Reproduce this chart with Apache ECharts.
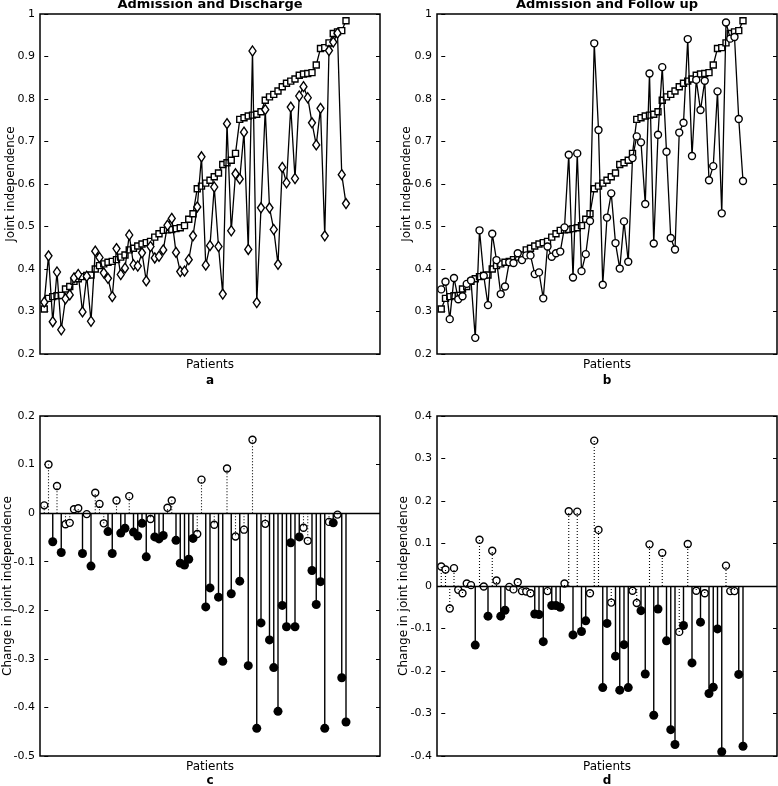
<!DOCTYPE html>
<html>
<head>
<meta charset="utf-8">
<script src="https://cdn.jsdelivr.net/npm/echarts@6/dist/echarts.min.js"></script>
<style>
  html, body { margin: 0; padding: 0; background: #fff; }
  #chart { width: 778px; height: 786px; }
</style>
</head>
<body>
<div id="chart"></div>
<script>
// admission values, patients sorted by admission (squares)
const admission = [
  0.306, 0.331, 0.335, 0.337, 0.338, 0.353, 0.359, 0.371, 0.377, 0.382,
  0.385, 0.386, 0.400, 0.408, 0.412, 0.416, 0.418, 0.422, 0.428, 0.433,
  0.445, 0.449, 0.454, 0.459, 0.462, 0.465, 0.475, 0.483, 0.491, 0.492,
  0.493, 0.495, 0.497, 0.502, 0.517, 0.530, 0.589, 0.595, 0.602, 0.609,
  0.617, 0.626, 0.646, 0.650, 0.656, 0.672, 0.752, 0.756, 0.760, 0.762,
  0.764, 0.770, 0.797, 0.805, 0.811, 0.819, 0.829, 0.837, 0.842, 0.847,
  0.856, 0.859, 0.860, 0.862, 0.880, 0.919, 0.921, 0.932, 0.954, 0.958,
  0.961, 0.984
];
// discharge values (diamonds)
const discharge = [
  0.322, 0.431, 0.276, 0.393, 0.257, 0.330, 0.339, 0.379, 0.387, 0.299,
  0.383, 0.277, 0.442, 0.427, 0.391, 0.378, 0.335, 0.448, 0.387, 0.402,
  0.480, 0.410, 0.407, 0.438, 0.372, 0.453, 0.426, 0.430, 0.445, 0.503,
  0.519, 0.439, 0.394, 0.395, 0.422, 0.478, 0.546, 0.664, 0.409, 0.455,
  0.593, 0.453, 0.341, 0.742, 0.490, 0.624, 0.612, 0.722, 0.446, 0.913,
  0.321, 0.544, 0.775, 0.544, 0.493, 0.411, 0.639, 0.603, 0.781, 0.613,
  0.807, 0.829, 0.803, 0.744, 0.692, 0.778, 0.478, 0.914, 0.934, 0.955,
  0.622, 0.554
];
// follow up values (circles)
const followUp = [
  0.352, 0.370, 0.282, 0.379, 0.329, 0.336, 0.365, 0.373, 0.238, 0.491,
  0.384, 0.315, 0.483, 0.421, 0.341, 0.359, 0.416, 0.414, 0.437, 0.421,
  0.432, 0.432, 0.388, 0.392, 0.331, 0.453, 0.429, 0.437, 0.441, 0.498,
  0.669, 0.380, 0.672, 0.395, 0.435, 0.513, 0.931, 0.727, 0.363, 0.521,
  0.578, 0.461, 0.401, 0.512, 0.417, 0.661, 0.712, 0.698, 0.553, 0.860,
  0.460, 0.716, 0.875, 0.676, 0.473, 0.446, 0.721, 0.744, 0.941, 0.666,
  0.845, 0.774, 0.843, 0.609, 0.642, 0.818, 0.531, 0.980, 0.942, 0.946,
  0.753, 0.607
];
// change admission -> discharge (panel c), 1 = open marker
const changeDischarge = [
  0.016, 0.100, -0.059, 0.056, -0.081, -0.023, -0.020, 0.008, 0.010, -0.083,
  -0.002, -0.109, 0.042, 0.019, -0.021, -0.038, -0.083, 0.026, -0.041, -0.031,
  0.035, -0.039, -0.047, -0.021, -0.090, -0.012, -0.049, -0.053, -0.046, 0.011,
  0.026, -0.056, -0.103, -0.107, -0.095, -0.052, -0.043, 0.069, -0.193, -0.154,
  -0.024, -0.173, -0.305, 0.092, -0.166, -0.048, -0.140, -0.034, -0.314, 0.151,
  -0.443, -0.226, -0.022, -0.261, -0.318, -0.408, -0.190, -0.234, -0.061, -0.234,
  -0.049, -0.030, -0.057, -0.118, -0.188, -0.141, -0.443, -0.018, -0.020, -0.003,
  -0.339, -0.430
];
const dischargeOpen = [
  1,1,0,1,0,1,1,1,1,0, 1,0,1,1,1,0,0,1,0,0, 1,0,0,0,0,1,0,0,0,1,
  1,0,0,0,0,0,1,1,0,0, 1,0,0,1,0,1,0,1,0,1, 0,0,1,0,0,0,0,0,0,0,
  0,1,1,0,0,0,0,1,0,1, 0,0
];
// change admission -> follow up (panel d)
const changeFollowUp = [
  0.046, 0.039, -0.053, 0.042, -0.009, -0.017, 0.006, 0.002, -0.139, 0.109,
  -0.001, -0.071, 0.083, 0.013, -0.071, -0.057, -0.002, -0.008, 0.009, -0.012,
  -0.013, -0.017, -0.066, -0.067, -0.131, -0.012, -0.046, -0.046, -0.050, 0.006,
  0.176, -0.115, 0.175, -0.107, -0.082, -0.017, 0.342, 0.132, -0.239, -0.088,
  -0.039, -0.165, -0.245, -0.138, -0.239, -0.011, -0.040, -0.058, -0.207, 0.098,
  -0.304, -0.054, 0.078, -0.129, -0.338, -0.373, -0.108, -0.093, 0.099, -0.181,
  -0.011, -0.085, -0.017, -0.253, -0.238, -0.101, -0.390, 0.048, -0.012, -0.012,
  -0.208, -0.377
];
const followUpOpen = [
  1,1,1,1,1,1,1,1,0,1, 1,0,1,1,0,0,1,1,1,1, 1,1,0,0,0,1,0,0,0,1,
  1,0,1,0,0,1,1,1,0,0, 1,0,0,0,0,1,1,0,0,1, 0,0,1,0,0,0,1,0,1,0,
  1,0,1,0,0,0,0,1,1,1, 0,0
];

const titles = ['Admission and Discharge', 'Admission and Follow up'];
const panelLetters = ['a', 'b', 'c', 'd'];
const yNames = ['Joint independence', 'Joint independence',
                'Change in joint independence', 'Change in joint independence'];
const yRanges = [[0.2, 1], [0.2, 1], [-0.5, 0.2], [-0.4, 0.4]];

const FONT = "'DejaVu Sans', sans-serif";
const grids = [
  { left: 40, top: 14 }, { left: 437, top: 14 },
  { left: 40, top: 416 }, { left: 437, top: 416 }
];

const fmt = v => String(Math.round(v * 10) / 10);

function pairs(arr) { return arr.map((v, i) => [i, v]); }

let xAxis = [], yAxis = [], series = [], graphic = [];

grids.forEach((g, k) => {
  xAxis.push({
    type: 'value', gridIndex: k, min: -1, max: 79,
    axisLine: { show: false }, axisTick: { show: false },
    axisLabel: { show: false }, splitLine: { show: false }
  });
  // left axis with labels, right axis with ticks only
  yAxis.push({
    type: 'value', gridIndex: k, min: yRanges[k][0], max: yRanges[k][1], interval: 0.1,
    axisLine: { show: false },
    axisTick: { show: true, inside: true, length: 4, lineStyle: { color: '#000', width: 1 } },
    axisLabel: { margin: 5, color: '#000', fontSize: 11, fontFamily: FONT, formatter: fmt },
    splitLine: { show: false }
  });
  yAxis.push({
    type: 'value', gridIndex: k, position: 'right', min: yRanges[k][0], max: yRanges[k][1], interval: 0.1,
    axisLine: { show: false },
    axisTick: { show: true, inside: true, length: 4, lineStyle: { color: '#000', width: 1 } },
    axisLabel: { show: false }, splitLine: { show: false }
  });
  const cx = g.left + 170;
  const cy = g.top + 170;
  const bottom = g.top + 340;
  graphic.push({ type: 'text', x: cx, y: bottom + 11, style: {
    text: 'Patients', font: '12px ' + FONT, fill: '#000', align: 'center', verticalAlign: 'middle' } });
  graphic.push({ type: 'text', x: cx, y: k < 2 ? bottom + 27 : bottom + 25, style: {
    text: panelLetters[k], font: 'bold 12px ' + FONT, fill: '#000', align: 'center', verticalAlign: 'middle' } });
  graphic.push({ type: 'text', x: k % 2 === 0 ? (k < 2 ? 11 : 8) : (k < 2 ? 407 : 404), y: cy, rotation: Math.PI / 2, style: {
    text: yNames[k], font: '12px ' + FONT, fill: '#000', align: 'center', verticalAlign: 'middle' } });
  if (k < 2) {
    graphic.push({ type: 'text', x: cx, y: 4.5, style: {
      text: titles[k], font: 'bold 13px ' + FONT, fill: '#000', align: 'center', verticalAlign: 'middle' } });
  }
});

const lineCommon = {
  type: 'line', showAllSymbol: true, animation: false,
  lineStyle: { color: '#000', width: 1.3 },
  itemStyle: { color: '#fff', borderColor: '#000', borderWidth: 1.4 }
};

// panel a
series.push(Object.assign({}, lineCommon, { name: 'Admission', xAxisIndex: 0, yAxisIndex: 0,
  symbol: 'rect', symbolSize: 6, z: 2, data: pairs(admission) }));
series.push(Object.assign({}, lineCommon, { name: 'Discharge', xAxisIndex: 0, yAxisIndex: 0,
  symbol: 'diamond', symbolSize: [7, 10], z: 3, data: pairs(discharge) }));
// panel b
series.push(Object.assign({}, lineCommon, { name: 'Admission', xAxisIndex: 1, yAxisIndex: 2,
  symbol: 'rect', symbolSize: 6, z: 2, data: pairs(admission) }));
series.push(Object.assign({}, lineCommon, { name: 'Follow up', xAxisIndex: 1, yAxisIndex: 2,
  symbol: 'circle', symbolSize: 7, z: 3, data: pairs(followUp) }));

// stem panels
function stems(values, openFlags, k) {
  const stemData = values.map((v, i) => [i, v, openFlags[i]]);
  series.push({
    type: 'custom', xAxisIndex: k, yAxisIndex: 2 * k, animation: false, z: 4,
    encode: { x: 0, y: 1 },
    renderItem: function (params, api) {
      const p0 = api.coord([api.value(0), 0]);
      const p1 = api.coord([api.value(0), api.value(1)]);
      const open = api.value(2) === 1;
      return {
        type: 'line',
        shape: { x1: p0[0], y1: p0[1], x2: p1[0], y2: p1[1] },
        style: { stroke: '#000', lineWidth: open ? 1.1 : 1.4, lineDash: open ? [1, 2] : null }
      };
    },
    data: stemData
  });
  series.push({
    type: 'scatter', xAxisIndex: k, yAxisIndex: 2 * k, animation: false, z: 3,
    symbol: 'circle', symbolSize: 7,
    itemStyle: { color: '#fff', borderColor: '#000', borderWidth: 1.4, opacity: 1 },
    data: values.map((v, i) => openFlags[i] ? [i, v] : null).filter(Boolean)
  });
  series.push({
    type: 'scatter', xAxisIndex: k, yAxisIndex: 2 * k, animation: false, z: 5,
    symbol: 'circle', symbolSize: 9,
    itemStyle: { color: '#000', opacity: 1 },
    data: values.map((v, i) => openFlags[i] ? null : [i, v]).filter(Boolean),
    markLine: {
      silent: true, symbol: 'none', animation: false,
      label: { show: false },
      lineStyle: { color: '#000', width: 1.4, type: 'solid' },
      data: [{ yAxis: 0 }]
    }
  });
}
stems(changeDischarge, dischargeOpen, 2);
stems(changeFollowUp, followUpOpen, 3);

const chart = echarts.init(document.getElementById('chart'), null, { renderer: 'canvas' });
chart.setOption({
  animation: false,
  backgroundColor: '#fff',
  grid: grids.map(g => ({
    left: g.left, top: g.top, width: 340, height: 340,
    containLabel: false, outerBoundsMode: 'none',
    show: true, borderColor: '#000', borderWidth: 1.5, backgroundColor: 'transparent'
  })),
  xAxis: xAxis,
  yAxis: yAxis,
  series: series,
  graphic: graphic
});
</script>
</body>
</html>
